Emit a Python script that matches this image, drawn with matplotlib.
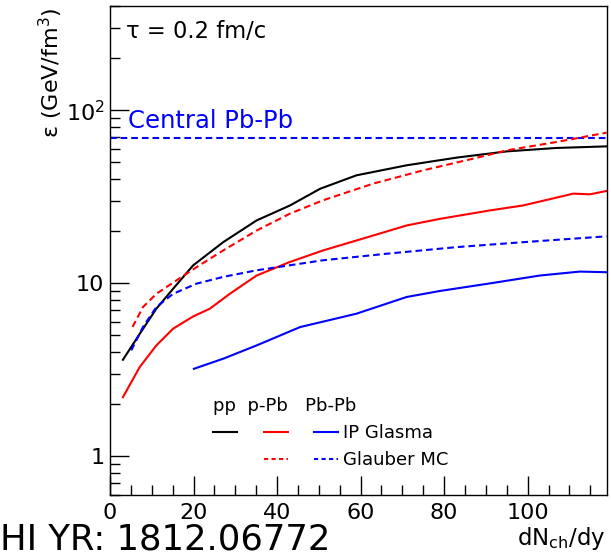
import numpy as np
import matplotlib
matplotlib.use('Agg')
import matplotlib.pyplot as plt
from matplotlib.lines import Line2D
from matplotlib.ticker import FixedLocator, FixedFormatter, LogLocator, MultipleLocator, NullFormatter

plt.rcParams['font.family'] = ['DejaVu Sans']
plt.rcParams['mathtext.fontset'] = 'dejavusans'

# pp, IP Glasma
x_pp = [3.1, 7.1, 11.1, 15.1, 19.9, 27.1, 35.1, 43.1, 50.3, 59.0, 71.0, 83.0, 95.0, 106.9, 118.9]
e_pp = [3.62, 5.1, 7.14, 9.3, 12.7, 17.3, 23.1, 28.2, 35.2, 42.1, 48.1, 53.3, 57.9, 60.6, 61.9]

# p-Pb, IP Glasma
x_ppb = [3.1, 7.1, 11.1, 15.1, 19.9, 23.9, 28.7, 35.1, 43.1, 51.0, 63.0, 71.0, 79.0, 91.0, 98.9, 106.9, 110.9, 114.9, 118.9]
e_ppb = [2.2, 3.28, 4.38, 5.47, 6.44, 7.14, 8.71, 11.1, 13.3, 15.5, 18.9, 21.6, 23.6, 26.4, 28.2, 31.3, 33.0, 32.7, 34.2]

# p-Pb, Glauber MC
x_ppb_gl = [5.4, 7.9, 11.1, 15.9, 20.7, 27.1, 35.1, 43.1, 51.0, 63.0, 75.0, 87.0, 95.0, 106.9, 118.9]
e_ppb_gl = [5.6, 7.3, 8.7, 10.4, 12.4, 15.5, 20.2, 25.3, 30.2, 37.7, 45.0, 52.6, 58.7, 65.6, 74.3]

# Pb-Pb, IP Glasma
x_pbpb = [20.1, 27.1, 35.1, 45.5, 59.0, 71.0, 79.0, 91.0, 102.9, 112.5, 118.9]
e_pbpb = [3.21, 3.67, 4.38, 5.59, 6.68, 8.34, 9.04, 10.0, 11.1, 11.7, 11.6]

# Pb-Pb, Glauber MC
x_pbpb_gl = [5.1, 7.9, 11.1, 15.1, 20.7, 27.1, 35.1, 51.0, 67.0, 83.0, 98.9, 118.9]
e_pbpb_gl = [4.1, 5.6, 7.3, 8.7, 9.96, 10.9, 11.9, 13.6, 14.9, 16.2, 17.3, 18.7]

central_pbpb = 69.5

fig = plt.figure(figsize=(6.11, 5.56), dpi=100)
ax = fig.add_axes([0.180, 0.110, 0.8135, 0.879])

lw = 1.5
dash = (0, (3.2, 1.9))
ax.axhline(central_pbpb, color='#0000ff', lw=lw, ls=dash)
ax.plot(x_pp, e_pp, color='black', lw=lw)
ax.plot(x_ppb, e_ppb, color='#ff0000', lw=lw)
ax.plot(x_ppb_gl, e_ppb_gl, color='#ff0000', lw=lw, ls=dash)
ax.plot(x_pbpb, e_pbpb, color='#0000ff', lw=lw)
ax.plot(x_pbpb_gl, e_pbpb_gl, color='#0000ff', lw=lw, ls=dash)

ax.set_yscale('log')
ax.set_xlim(0, 119)
ax.set_ylim(0.6, 400)

ax.xaxis.set_major_locator(MultipleLocator(20))
ax.xaxis.set_minor_locator(MultipleLocator(5))
ax.yaxis.set_major_locator(FixedLocator([1, 10, 100]))
ax.yaxis.set_major_formatter(FixedFormatter(['1', '10', '$10^2$']))
ax.yaxis.set_minor_locator(LogLocator(base=10, subs=np.arange(2, 10)))
ax.yaxis.set_minor_formatter(NullFormatter())

ax.tick_params(which='both', direction='in', top=False, right=False, labelsize=16, width=1)
ax.tick_params(which='major', length=14)
ax.tick_params(which='minor', length=7)
ax.tick_params(axis='x', which='major', pad=6)
ax.tick_params(axis='y', which='major', pad=4)
for s in ax.spines.values():
    s.set_linewidth(1)

ax.text(0.033, 0.949, 'τ = 0.2 fm/c', transform=ax.transAxes, fontsize=16.3, va='center')
ax.text(0.036, 0.765, 'Central Pb-Pb', transform=ax.transAxes, fontsize=17.5, color='#0000ff', va='center')

fig.text(0.083, 0.986, r'ε (GeV/fm$^3$)', rotation=90, ha='center', va='top', fontsize=16)
fig.text(0.991, 0.020, r'dN$_{\rm ch}$/dy', ha='right', va='baseline', fontsize=16.5)
fig.text(0.0, 0.03, 'HI YR: 1812.06772', ha='left', va='center', fontsize=25.5)

blank = Line2D([], [], ls='none')
handles = [Line2D([], [], color='black', lw=lw), blank,
           Line2D([], [], color='#ff0000', lw=lw), Line2D([], [], color='#ff0000', lw=lw, ls=(0, (2, 1.6))),
           Line2D([], [], color='#0000ff', lw=lw), Line2D([], [], color='#0000ff', lw=lw, ls=(0, (2, 1.6)))]
labels = ['', '', '', '', 'IP Glasma', 'Glauber MC']
leg = ax.legend(handles, labels, ncol=3, loc='upper left', bbox_to_anchor=(0.19, 0.219),
                frameon=False, fontsize=13, handlelength=1.33, handletextpad=0.28,
                columnspacing=1.17, labelspacing=0.5, borderpad=0,
                title='pp  p-Pb   Pb-Pb', title_fontsize=13, alignment='left')

fig.savefig('out.png', dpi=100)
